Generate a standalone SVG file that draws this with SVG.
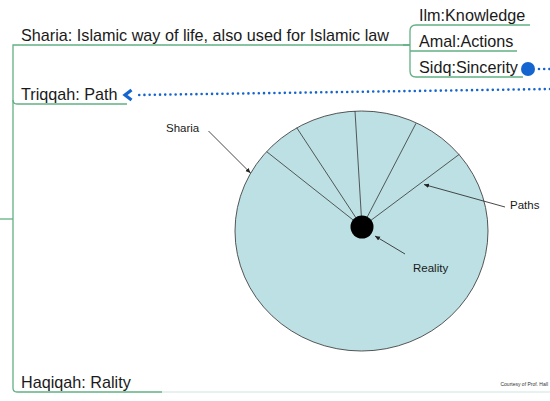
<svg xmlns="http://www.w3.org/2000/svg" width="550" height="401" viewBox="0 0 550 401">
<style>
.br{fill:none;stroke:#62b084;stroke-width:1.3}
.t{font-family:"Liberation Sans",Arial,sans-serif;font-size:16.2px;fill:#1a1a1a}
.s{font-family:"Liberation Sans",Arial,sans-serif;font-size:11.5px;fill:#1a1a1a}
.dot{fill:none;stroke:#1565d0;stroke-width:2.6;stroke-linecap:round;stroke-dasharray:0 5.2}
.sp{stroke:#333;stroke-width:0.8;fill:none}
.ar{stroke:#333;stroke-width:0.9;fill:none;marker-end:url(#ah)}
</style>
<defs>
<marker id="ah" markerWidth="6" markerHeight="6" refX="5" refY="3" orient="auto" markerUnits="userSpaceOnUse">
<path d="M0,0.8 L5,3 L0,5.2 Z" fill="#222"/>
</marker>
</defs>
<g id="connectors">
<path class="br" d="M0,219 H13"/>
<path class="br" d="M410,45 H13 Q13,45 13,50 V388 Q13,392 17,392 H162"/>
<path class="br" d="M13,100 Q13,104 17,104 H127"/>
<path class="br" d="M403,45 H410 M530,25 H416 Q410,25 410,31 V71 Q410,77 416,77 H523 M410,51 H517"/>
<line x1="162" y1="392" x2="550" y2="392" stroke="#cfe3df" stroke-width="1.2"/>
<path class="dot" d="M550,89 L137,95"/>
<path d="M131.5,90 L125,95 L131.5,100" fill="none" stroke="#1565d0" stroke-width="3.2" stroke-linejoin="miter"/>
<path class="dot" d="M539,69 L550,69"/>
</g>
<g id="sharia"><text class="t" x="21" y="41">Sharia: Islamic way of life, also used for Islamic law</text></g>
<g id="ilm"><text class="t" x="419" y="21">Ilm:Knowledge</text></g>
<g id="amal"><text class="t" x="419" y="47">Amal:Actions</text></g>
<g id="sidq"><text class="t" x="419" y="73">Sidq:Sincerity</text><circle cx="528" cy="69" r="7" fill="#1565d0"/></g>
<g id="triqqah"><text class="t" x="21" y="100">Triqqah: Path</text></g>
<g id="haqiqah"><text class="t" x="21" y="388">Haqiqah: Rality</text></g>
<g id="circle">
<ellipse cx="361.5" cy="231" rx="126.5" ry="120" fill="#bce0e3" stroke="#444" stroke-width="0.9"/>
<path class="sp" d="M362,227 L266.7,151.7 M362,227 L296.7,127.7 M362,227 L355,111 M362,227 L416,123.3 M362,227 L459.3,154.3"/>
<circle cx="362" cy="227" r="11.5" fill="#000"/>
<text class="s" x="166" y="132">Sharia</text>
<path class="ar" d="M208.5,131 L250.5,173"/>
<text class="s" x="510" y="209">Paths</text>
<path class="ar" d="M505,207 L424,184.5"/>
<text class="s" x="413" y="272">Reality</text>
<path class="ar" d="M405,254 L375,236"/>
<text x="548" y="386" text-anchor="end" font-family="Liberation Sans,Arial,sans-serif" font-size="5" fill="#333">Courtesy of Prof. Hall</text>
</g>
</svg>
